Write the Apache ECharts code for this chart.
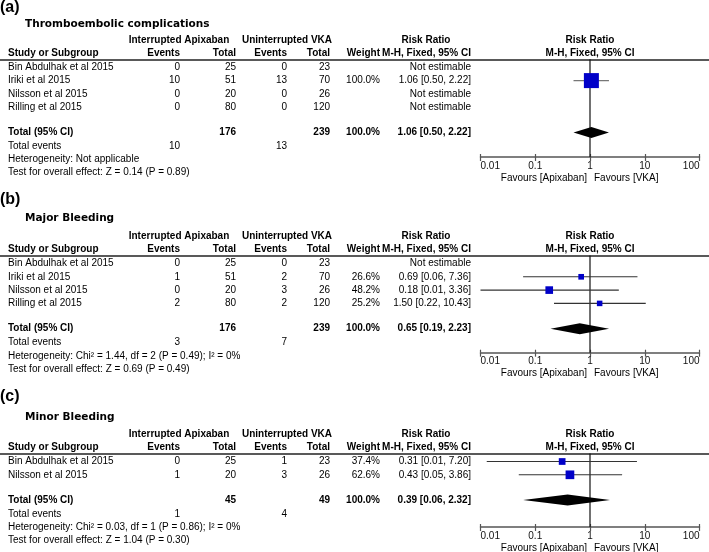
<!DOCTYPE html>
<html><head><meta charset="utf-8">
<script src="https://cdn.jsdelivr.net/npm/echarts@6/dist/echarts.min.js"></script>
<style>html,body{margin:0;padding:0;background:#fff}#c{width:709px;height:552px}</style>
</head><body><div id="c"></div>
<script>
// ---------------- DATA ----------------
const panelTags = ['(a)', '(b)', '(c)'];
const panelTitles = ['Thromboembolic complications', 'Major Bleeding', 'Minor Bleeding'];
const groupHeaders = ['Interrupted Apixaban', 'Uninterrupted VKA'];
const colHeaders = ['Study or Subgroup', 'Events', 'Total', 'Events', 'Total', 'Weight', 'M-H, Fixed, 95% CI'];
const effectHeader = ['Risk Ratio', 'M-H, Fixed, 95% CI'];
const tickLabels = ['0.01', '0.1', '1', '10', '100'];
const favours = ['Favours [Apixaban]', 'Favours [VKA]'];

// (a) Thromboembolic complications
const studiesA = ['Bin Abdulhak et al 2015', 'Iriki et al 2015', 'Nilsson et al 2015', 'Rilling et al 2015'];
const apixEventsA = [0, 10, 0, 0];
const apixTotalA = [25, 51, 20, 80];
const vkaEventsA = [0, 13, 0, 0];
const vkaTotalA = [23, 70, 26, 120];
const weightA = [null, 100.0, null, null];
const rrA = [null, 1.06, null, null];
const loA = [null, 0.50, null, null];
const hiA = [null, 2.22, null, null];
const pooledA = [1.06, 0.50, 2.22];
const hetA = 'Heterogeneity: Not applicable';
const testA = 'Test for overall effect: Z = 0.14 (P = 0.89)';

// (b) Major Bleeding
const studiesB = ['Bin Abdulhak et al 2015', 'Iriki et al 2015', 'Nilsson et al 2015', 'Rilling et al 2015'];
const apixEventsB = [0, 1, 0, 2];
const apixTotalB = [25, 51, 20, 80];
const vkaEventsB = [0, 2, 3, 2];
const vkaTotalB = [23, 70, 26, 120];
const weightB = [null, 26.6, 48.2, 25.2];
const rrB = [null, 0.69, 0.18, 1.50];
const loB = [null, 0.06, 0.01, 0.22];
const hiB = [null, 7.36, 3.36, 10.43];
const pooledB = [0.65, 0.19, 2.23];
const hetB = 'Heterogeneity: Chi\u00B2 = 1.44, df = 2 (P = 0.49); I\u00B2 = 0%';
const testB = 'Test for overall effect: Z = 0.69 (P = 0.49)';

// (c) Minor Bleeding
const studiesC = ['Bin Abdulhak et al 2015', 'Nilsson et al 2015'];
const apixEventsC = [0, 1];
const apixTotalC = [25, 20];
const vkaEventsC = [1, 3];
const vkaTotalC = [23, 26];
const weightC = [37.4, 62.6];
const rrC = [0.31, 0.43];
const loC = [0.013, 0.05];
const hiC = [7.20, 3.86];
const pooledC = [0.39, 0.06, 2.32];
const hetC = 'Heterogeneity: Chi\u00B2 = 0.03, df = 1 (P = 0.86); I\u00B2 = 0%';
const testC = 'Test for overall effect: Z = 1.04 (P = 0.30)';

// ---------------- LAYOUT ----------------
const FONT = '"Liberation Sans", Arial, Helvetica, sans-serif';
const RH = 13.3;
const layouts = [
  { tagY: 8, titleY: 24.5, row0: 67.3, axisY: 157, sq: 1.5, ci: '#777' },
  { tagY: 200, titleY: 218.5, row0: 263.5, axisY: 352.7, sq: 1.1, ci: '#333' },
  { tagY: 397, titleY: 417, row0: 461.5, axisY: 527, sq: 1.1, ci: '#333' }
];
const COL = { study: 8, ev1: 180, tot1: 236, ev2: 287, tot2: 330, w: 380, ci: 471, g1: 179, g2: 287, rr: 426, plot: 590 };

const panels = [
  { studies: studiesA, ae: apixEventsA, at: apixTotalA, ve: vkaEventsA, vt: vkaTotalA, w: weightA, rr: rrA, lo: loA, hi: hiA, pooled: pooledA, het: hetA, test: testA },
  { studies: studiesB, ae: apixEventsB, at: apixTotalB, ve: vkaEventsB, vt: vkaTotalB, w: weightB, rr: rrB, lo: loB, hi: hiB, pooled: pooledB, het: hetB, test: testB },
  { studies: studiesC, ae: apixEventsC, at: apixTotalC, ve: vkaEventsC, vt: vkaTotalC, w: weightC, rr: rrC, lo: loC, hi: hiC, pooled: pooledC, het: hetC, test: testC }
];

const sum = a => a.reduce((s, v) => s + v, 0);
const ciText = (e, l, h) => `${e.toFixed(2)} [${l.toFixed(2)}, ${h.toFixed(2)}]`;

const grid = [], xAxis = [], yAxis = [], series = [], title = [];

panels.forEach((P, i) => {
  const L = layouts[i];
  const top = L.row0 - 0.6 * RH;
  const height = L.axisY - top;
  const yMax = (L.axisY - L.row0) / RH;
  const n = P.studies.length;

  grid.push({ left: 0, width: 709, top, height });
  grid.push({ left: 480.5, width: 219, top, height });

  xAxis.push({ gridIndex: 2 * i, type: 'value', min: 0, max: 709, position: 'top',
    axisLine: { show: true, onZero: false, lineStyle: { color: '#222', width: 1.5 } },
    axisTick: { show: false }, axisLabel: { show: false }, splitLine: { show: false } });
  xAxis.push({ gridIndex: 2 * i + 1, type: 'log', logBase: 10, min: 0.01, max: 100, position: 'bottom',
    axisLine: { show: true, onZero: false, lineStyle: { color: '#555', width: 1.5 } },
    axisTick: { show: true, length: 4, lineStyle: { color: '#555', width: 1.2 } },
    axisLabel: { margin: 4, fontSize: 10, color: '#111', fontFamily: FONT,
      showMinLabel: true, showMaxLabel: true, alignMinLabel: 'left', alignMaxLabel: 'right',
      formatter: v => tickLabels[Math.round(Math.log10(v)) + 2] ?? '' },
    splitLine: { show: false }, minorTick: { show: false } });
  xAxis.push({ gridIndex: 2 * i + 1, type: 'log', logBase: 10, min: 0.01, max: 100, position: 'bottom',
    axisLine: { show: false, onZero: false },
    axisTick: { show: true, inside: true, length: 3, lineStyle: { color: '#555', width: 1.2 } },
    axisLabel: { show: false }, splitLine: { show: false } });

  yAxis.push({ gridIndex: 2 * i, type: 'value', inverse: true, min: -0.6, max: yMax, show: false });
  yAxis.push({ gridIndex: 2 * i + 1, type: 'value', inverse: true, min: -0.6, max: yMax, show: false });

  title.push({ text: panelTags[i], left: 0, top: L.tagY - 8, padding: 0,
    textStyle: { fontSize: 16, fontWeight: 'bold', fontFamily: FONT, color: '#000', lineHeight: 16 } });
  title.push({ text: panelTitles[i], left: 25, top: L.titleY - 6, padding: 0,
    textStyle: { fontSize: 10.5, fontWeight: 'bold', fontFamily: '"DejaVu Sans", Verdana, sans-serif', color: '#000', lineHeight: 12 } });

  // ---- table cells ----
  const cells = [];
  const add = (x, r, t, a, b) => cells.push({ x, r, t: String(t), a, b: !!b });
  const H1 = -2.05, H2 = -1.05;
  add(COL.g1, H1, groupHeaders[0], 'center', true);
  add(COL.g2, H1, groupHeaders[1], 'center', true);
  add(COL.rr, H1, effectHeader[0], 'center', true);
  add(COL.plot, H1, effectHeader[0], 'center', true);
  add(COL.study, H2, colHeaders[0], 'left', true);
  add(COL.ev1, H2, colHeaders[1], 'right', true);
  add(COL.tot1, H2, colHeaders[2], 'right', true);
  add(COL.ev2, H2, colHeaders[3], 'right', true);
  add(COL.tot2, H2, colHeaders[4], 'right', true);
  add(COL.w, H2, colHeaders[5], 'right', true);
  add(COL.ci, H2, colHeaders[6], 'right', true);
  add(COL.plot, H2, effectHeader[1], 'center', true);
  P.studies.forEach((s, k) => {
    add(COL.study, k, s, 'left');
    add(COL.ev1, k, P.ae[k], 'right');
    add(COL.tot1, k, P.at[k], 'right');
    add(COL.ev2, k, P.ve[k], 'right');
    add(COL.tot2, k, P.vt[k], 'right');
    if (P.w[k] != null) add(COL.w, k, P.w[k].toFixed(1) + '%', 'right');
    add(COL.ci, k, P.rr[k] != null ? ciText(P.rr[k], P.lo[k], P.hi[k]) : 'Not estimable', 'right');
  });
  const rT = n + 0.9;
  add(COL.study, rT, 'Total (95% CI)', 'left', true);
  add(COL.tot1, rT, sum(P.at), 'right', true);
  add(COL.tot2, rT, sum(P.vt), 'right', true);
  add(COL.w, rT, '100.0%', 'right', true);
  add(COL.ci, rT, ciText(P.pooled[0], P.pooled[1], P.pooled[2]), 'right', true);
  add(COL.study, n + 1.95, 'Total events', 'left');
  add(COL.ev1, n + 1.95, sum(P.ae), 'right');
  add(COL.ev2, n + 1.95, sum(P.ve), 'right');
  add(COL.study, n + 2.95, P.het, 'left');
  add(COL.study, n + 3.92, P.test, 'left');
  add(587, yMax + 20.8 / RH, favours[0], 'right');
  add(594, yMax + 20.8 / RH, favours[1], 'left');

  series.push({
    type: 'custom', xAxisIndex: 3 * i, yAxisIndex: 2 * i, clip: false, silent: true, z: 5,
    data: cells.map((c, k) => [c.x, c.r, k]),
    renderItem: (params, api) => {
      const c = cells[api.value(2)];
      const p = api.coord([api.value(0), api.value(1)]);
      return { type: 'text', x: p[0], y: p[1],
        style: { text: c.t, align: c.a, verticalAlign: 'middle', fontSize: 10,
          fontWeight: c.b ? 'bold' : 'normal', fontFamily: FONT, fill: '#000' } };
    }
  });

  // vertical line of no effect (RR = 1)
  series.push({
    type: 'custom', xAxisIndex: 3 * i + 1, yAxisIndex: 2 * i + 1, clip: false, silent: true, z: 2,
    data: [[1, 0]],
    renderItem: (params, api) => {
      const x = api.coord([api.value(0), 0])[0];
      const cs = params.coordSys;
      return { type: 'line', shape: { x1: x, y1: cs.y, x2: x, y2: cs.y + cs.height },
        style: { stroke: '#111', lineWidth: 1.2 } };
    }
  });

  // study estimates
  const est = [];
  P.rr.forEach((v, k) => { if (v != null) est.push([v, k, P.lo[k], P.hi[k], P.w[k]]); });
  series.push({
    type: 'custom', xAxisIndex: 3 * i + 1, yAxisIndex: 2 * i + 1, clip: false, silent: true, z: 3,
    data: est,
    renderItem: (params, api) => {
      const r = api.value(1);
      const pe = api.coord([api.value(0), r]);
      const xl = api.coord([api.value(2), r])[0];
      const xh = api.coord([api.value(3), r])[0];
      const s = L.sq * Math.sqrt(api.value(4));
      return { type: 'group', children: [
        { type: 'line', shape: { x1: xl, y1: pe[1], x2: xh, y2: pe[1] }, style: { stroke: L.ci, lineWidth: 1.1 } },
        { type: 'rect', shape: { x: pe[0] - s / 2, y: pe[1] - s / 2, width: s, height: s }, style: { fill: '#0000C8' } }
      ] };
    }
  });

  // pooled diamond
  series.push({
    type: 'custom', xAxisIndex: 3 * i + 1, yAxisIndex: 2 * i + 1, clip: false, silent: true, z: 4,
    data: [[P.pooled[0], rT, P.pooled[1], P.pooled[2]]],
    renderItem: (params, api) => {
      const r = api.value(1);
      const pe = api.coord([api.value(0), r]);
      const xl = api.coord([api.value(2), r])[0];
      const xh = api.coord([api.value(3), r])[0];
      const h = 5.5;
      return { type: 'polygon', shape: { points: [[xl, pe[1]], [pe[0], pe[1] - h], [xh, pe[1]], [pe[0], pe[1] + h]] },
        style: { fill: '#000' } };
    }
  });
});

const chart = echarts.init(document.getElementById('c'), null, { renderer: 'canvas' });
chart.setOption({ animation: false, backgroundColor: '#fff', title, grid, xAxis, yAxis, series });
</script></body></html>
